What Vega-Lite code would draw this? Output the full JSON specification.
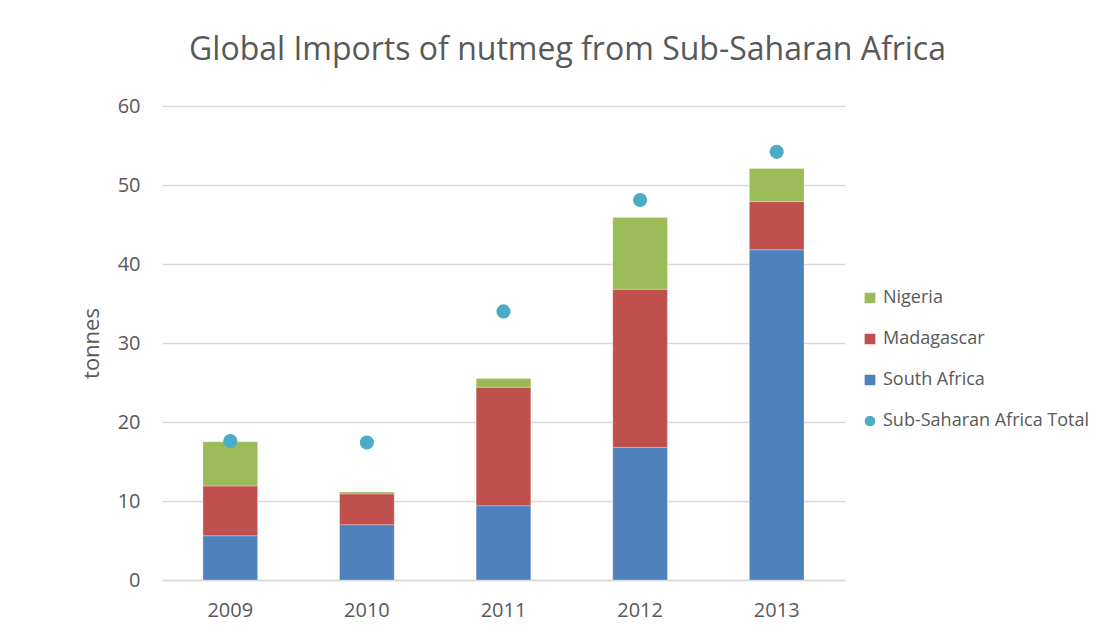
{
  "$schema": "https://vega.github.io/schema/vega-lite/v6.json",
  "width": 683,
  "height": 474,
  "autosize": {"type": "none"},
  "padding": {"left": 162, "top": 106, "right": 273, "bottom": 56},
  "background": "white",
  "config": {"view": {"stroke": null}},
  "title": {
    "text": "Global Imports of nutmeg from Sub-Saharan Africa",
    "font": "Open Sans",
    "fontSize": 32,
    "fontWeight": "normal",
    "color": "#595959",
    "anchor": "middle",
    "dx": 64,
    "offset": 29
  },
  "data": {
    "values": [
      {"year": "2009", "series": "South Africa", "value": 5.6, "ord": 1},
      {"year": "2009", "series": "Madagascar", "value": 6.3, "ord": 2},
      {"year": "2009", "series": "Nigeria", "value": 5.6, "ord": 3},
      {"year": "2009", "series": "Sub-Saharan Africa  Total", "value": 17.6, "ord": 4},
      {"year": "2010", "series": "South Africa", "value": 7.0, "ord": 1},
      {"year": "2010", "series": "Madagascar", "value": 3.9, "ord": 2},
      {"year": "2010", "series": "Nigeria", "value": 0.25, "ord": 3},
      {"year": "2010", "series": "Sub-Saharan Africa  Total", "value": 17.4, "ord": 4},
      {"year": "2011", "series": "South Africa", "value": 9.4, "ord": 1},
      {"year": "2011", "series": "Madagascar", "value": 15.0, "ord": 2},
      {"year": "2011", "series": "Nigeria", "value": 1.1, "ord": 3},
      {"year": "2011", "series": "Sub-Saharan Africa  Total", "value": 34.0, "ord": 4},
      {"year": "2012", "series": "South Africa", "value": 16.8, "ord": 1},
      {"year": "2012", "series": "Madagascar", "value": 20.0, "ord": 2},
      {"year": "2012", "series": "Nigeria", "value": 9.1, "ord": 3},
      {"year": "2012", "series": "Sub-Saharan Africa  Total", "value": 48.1, "ord": 4},
      {"year": "2013", "series": "South Africa", "value": 41.8, "ord": 1},
      {"year": "2013", "series": "Madagascar", "value": 6.1, "ord": 2},
      {"year": "2013", "series": "Nigeria", "value": 4.2, "ord": 3},
      {"year": "2013", "series": "Sub-Saharan Africa  Total", "value": 54.2, "ord": 4}
    ]
  },
  "encoding": {
    "x": {
      "field": "year",
      "type": "ordinal",
      "scale": {"paddingInner": 0.6, "paddingOuter": 0.3},
      "axis": {
        "title": null,
        "labelAngle": 0,
        "labelFont": "Open Sans",
        "labelFontSize": 20,
        "labelColor": "#595959",
        "labelPadding": 20,
        "ticks": false,
        "domainColor": "#d9d9d9",
        "domainWidth": 1.5
      }
    }
  },
  "layer": [
    {
      "transform": [{"filter": "datum.series !== 'Sub-Saharan Africa  Total'"}],
      "mark": {"type": "bar", "stroke": "white", "strokeOpacity": 0.5, "strokeWidth": 0.5},
      "encoding": {
        "y": {
          "field": "value",
          "type": "quantitative",
          "stack": "zero",
          "scale": {"domain": [0, 60]},
          "axis": {
            "title": "tonnes",
            "titleFont": "Open Sans",
            "titleFontSize": 22,
            "titleFontWeight": "normal",
            "titleColor": "#595959",
            "titlePadding": 14,
            "values": [0, 10, 20, 30, 40, 50, 60],
            "labelFont": "Open Sans",
            "labelFontSize": 20,
            "labelColor": "#595959",
            "labelPadding": 22,
            "ticks": false,
            "domain": false,
            "gridColor": "#d9d9d9",
            "gridWidth": 1.5
          }
        },
        "color": {
          "field": "series",
          "type": "nominal",
          "scale": {
            "domain": ["Nigeria", "Madagascar", "South Africa", "Sub-Saharan Africa  Total"],
            "range": ["#9bbb59", "#c0504d", "#4f81bd", "#4bacc6"]
          },
          "legend": {
            "title": null,
            "orient": "none",
            "legendX": 699,
            "legendY": 183,
            "labelFont": "Open Sans",
            "labelFontSize": 18,
            "labelColor": "#595959",
            "labelLimit": 400,
            "symbolSize": 150,
            "rowPadding": 21,
            "labelOffset": 4
          }
        },
        "order": {"field": "ord", "type": "quantitative"}
      }
    },
    {
      "transform": [{"filter": "datum.series === 'Sub-Saharan Africa  Total'"}],
      "mark": {"type": "point", "filled": true, "opacity": 1, "size": 200},
      "encoding": {
        "y": {"field": "value", "type": "quantitative"},
        "color": {"field": "series", "type": "nominal"},
        "shape": {
          "field": "series",
          "type": "nominal",
          "scale": {
            "domain": ["Nigeria", "Madagascar", "South Africa", "Sub-Saharan Africa  Total"],
            "range": ["square", "square", "square", "circle"]
          }
        }
      }
    }
  ]
}
